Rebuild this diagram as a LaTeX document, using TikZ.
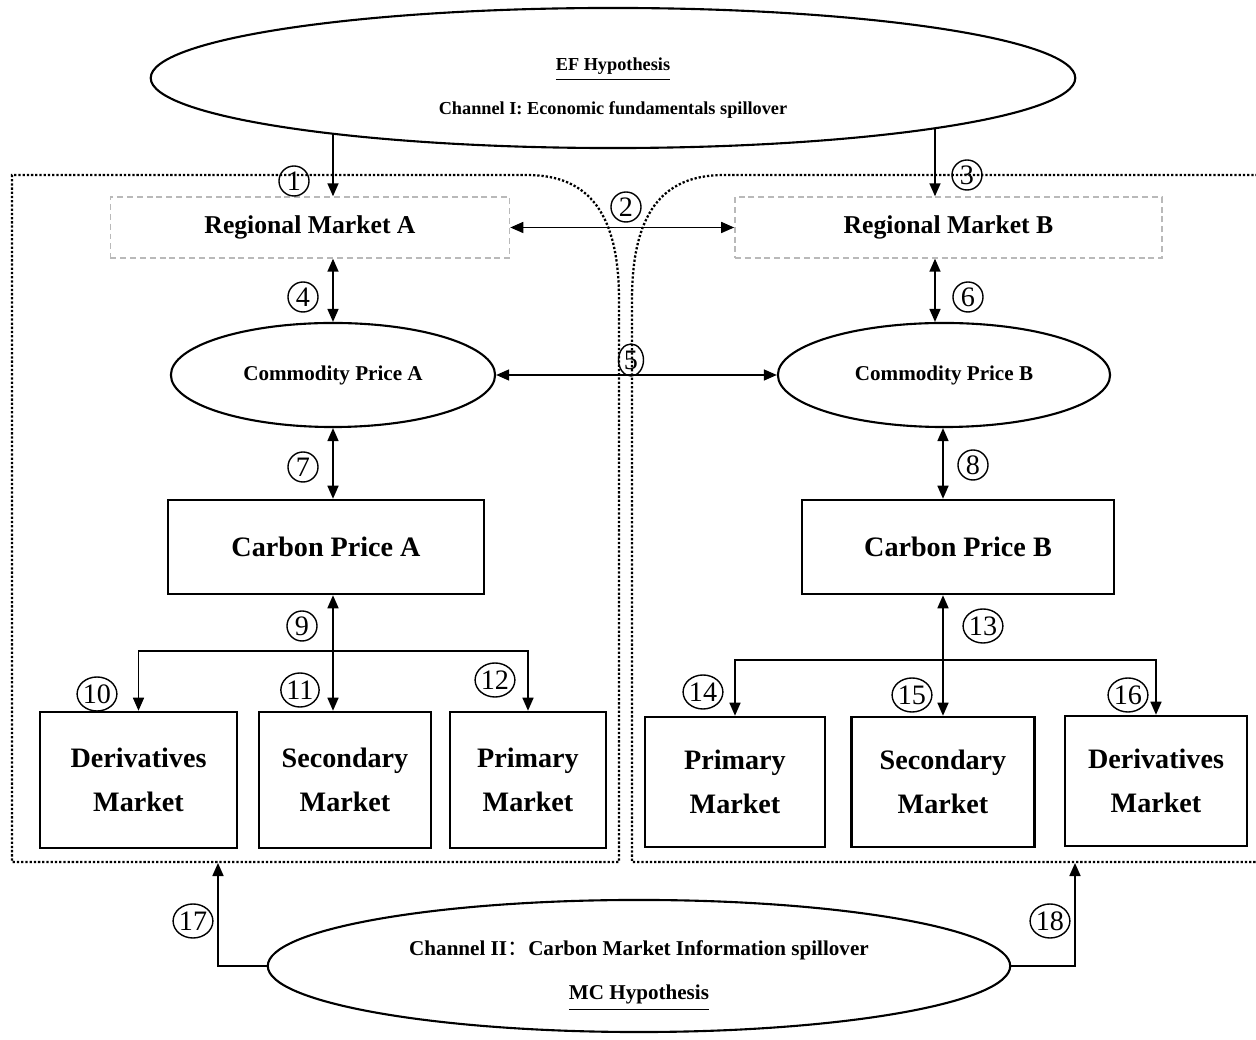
\documentclass[tikz,border=0pt]{standalone}
\usepackage{fontspec}
\setmainfont{Liberation Serif}
\newfontfamily\cjk{Noto Sans CJK SC}
\usetikzlibrary{arrows.meta,shapes.geometric,positioning}

\tikzset{
  link/.style={line width=0.45pt, >={Triangle[length=1.3mm,width=1.1mm]}},
  region/.style={line width=0.65pt, dash pattern=on 0.65pt off 0.55pt},
  regbox/.style={draw=gray!55, line width=0.4pt, dash pattern=on 1.7pt off 1.1pt,
    minimum width=3.99cm, minimum height=0.61cm, font=\fontsize{7.3}{8}\bfseries},
  pricebox/.style={draw, line width=0.7pt, minimum width=3.14cm, minimum height=0.94cm,
    font=\fontsize{8}{9}\bfseries},
  mktbox/.style={draw, line width=0.7pt, align=center, font=\fontsize{8}{12.5}\bfseries},
  comm/.style={ellipse, draw, line width=0.6pt, minimum width=3.24cm, minimum height=1.04cm,
    font=\fontsize{6}{7}\bfseries},
  hypo/.style={ellipse, draw, line width=0.6pt, inner sep=0pt},
  num/.style={circle, draw, line width=0.4pt, inner sep=0pt, minimum size=0.30cm,
    font=\fontsize{8}{8}\selectfont},
  numw/.style={num, ellipse, minimum width=0.31cm, minimum height=0.34cm}
}

\begin{document}
\begin{tikzpicture}[x=0.01cm, y=-0.01cm]
  \clip (0,0) rectangle (1256,1040);

  % 两个区域的虚线边界
  \draw[region] (527,175) -- (12,175) -- (12,862) -- (619,862) -- (619,300)
    .. controls (619,215) and (590,175) .. (527,175);
  \draw[region] (1262,175) -- (724,175) .. controls (661,175) and (632,215) .. (632,300)
    -- (632,862) -- (1262,862);

  % 假说椭圆
  \node[hypo, minimum width=9.24cm, minimum height=1.40cm, font=\fontsize{5.2}{12.5}\bfseries]
    (ef) at (613,78) {\raisebox{-0.06cm}[\height][\depth]{\begin{tabular}{@{}c@{}}
      \underline{EF Hypothesis}\\Channel I: Economic fundamentals spillover\end{tabular}}};
  \node[hypo, minimum width=7.42cm, minimum height=1.32cm, font=\fontsize{6}{12.5}\bfseries]
    (mc) at (639,966) {\raisebox{-0.03cm}[\height][\depth]{\begin{tabular}{@{}c@{}}
      Channel II{\cjk\mdseries ：}Carbon Market Information spillover\\\underline{MC Hypothesis}\end{tabular}}};

  % 区域市场 A / B
  \node[regbox] (regA) at (310,227.5) {Regional Market A};
  \node[regbox, minimum width=4.27cm] (regB) at (948.5,227.5) {Regional Market B};

  % 商品价格
  \node[comm] (cpA) at (333,375) {Commodity Price A};
  \node[comm, minimum width=3.32cm] (cpB) at (944,375) {Commodity Price B};

  % 碳价格
  \node[pricebox, minimum width=3.16cm] (carbA) at (326,547) {Carbon Price A};
  \node[pricebox, minimum width=3.12cm] (carbB) at (958,547) {Carbon Price B};

  % 各层次市场
  \node[mktbox, minimum width=1.97cm, minimum height=1.36cm] (derA) at (138.5,780) {Derivatives\\Market};
  \node[mktbox, minimum width=1.72cm, minimum height=1.36cm] (secA) at (345,780) {Secondary\\Market};
  \node[mktbox, minimum width=1.56cm, minimum height=1.36cm] (priA) at (528,780) {Primary\\Market};
  \node[mktbox, minimum width=1.80cm, minimum height=1.30cm] (priB) at (735,782) {Primary\\Market};
  \node[mktbox, minimum width=1.83cm, minimum height=1.30cm] (secB) at (943,782) {Secondary\\Market};
  \node[mktbox, minimum width=1.82cm, minimum height=1.30cm] (derB) at (1156,781) {Derivatives\\Market};

  % 辅助坐标
  \coordinate (axA) at (333,0);
  \coordinate (axB) at (935,0);
  \coordinate (axC) at (943,0);
  \coordinate (brA) at (333,651);
  \coordinate (brB) at (943,660);
  \coordinate (c17) at (218,863);
  \coordinate (c18) at (1075,863);

  % 连接箭头
  \draw[link,->] (axA |- ef.191) -- (axA |- regA.north);
  \draw[link,->] (axB |- ef.351) -- (axB |- regB.north);
  \draw[link,<->] (regA.east) -- (regB.west);
  \draw[link,<->] (axA |- regA.south) -- (axA |- cpA.north);
  \draw[link,<->] (axB |- regB.south) -- (axB |- cpB.north);
  \draw[link,<->] (cpA.east) -- (cpB.west);
  \draw[link,<->] (axA |- cpA.south) -- (axA |- carbA.north);
  \draw[link,<->] (axC |- cpB.south) -- (axC |- carbB.north);
  \draw[link,<->] (axA |- carbA.south) -- (axA |- secA.north);
  \draw[link,<->] (derA.north) |- (brA) -| (priA.north);
  \draw[link,<->] (axC |- carbB.south) -- (secB.north);
  \draw[link,<->] (priB.north) |- (brB) -| (derB.north);
  \draw[link,->] (mc.west) -| (c17);
  \draw[link,->] (mc.east) -| (c18);

  % 编号
  \node[num] (n1) at (294,181) {1};
  \node[num] (n2) at (626,207) {2};
  \node[num] (n3) at (967,175) {3};
  \node[num] (n4) at (303,297) {4};
  \node[num, ellipse, minimum width=0.25cm, minimum height=0.32cm] (n5) at (631,360) {5};
  \node[num] (n6) at (968,297) {6};
  \node[num] (n7) at (303,467) {7};
  \node[num] (n8) at (973,465) {8};
  \node[num] (n9) at (302,626) {9};
  \node[numw] (n10) at (97,694) {10};
  \node[numw] (n11) at (300,690) {11};
  \node[numw] (n12) at (495,680) {12};
  \node[numw] (n13) at (983,626) {13};
  \node[numw] (n14) at (703,692) {14};
  \node[numw] (n15) at (912,695) {15};
  \node[numw] (n16) at (1128,695) {16};
  \node[numw] (n17) at (193,921) {17};
  \node[numw] (n18) at (1050,921) {18};
\end{tikzpicture}
\end{document}
